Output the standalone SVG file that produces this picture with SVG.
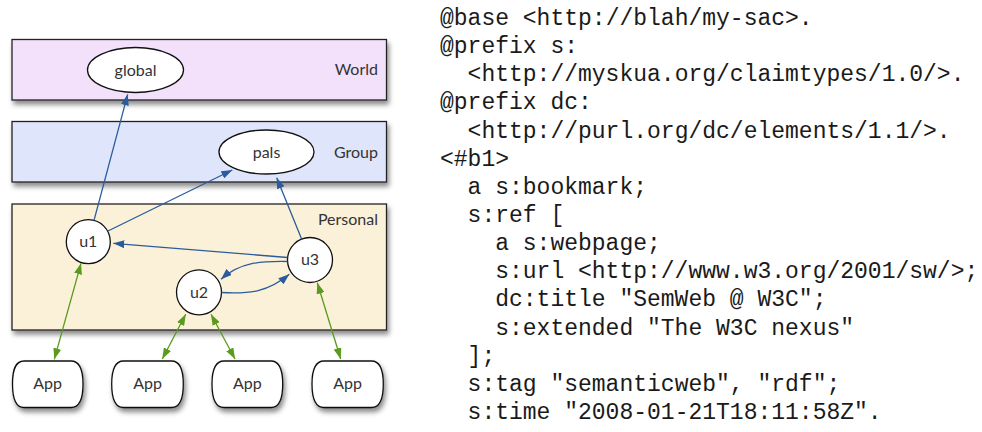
<svg xmlns="http://www.w3.org/2000/svg" width="982" height="432" viewBox="0 0 982 432">
  <defs>
    <filter id="shadow" x="-10%" y="-20%" width="125%" height="160%">
      <feDropShadow dx="2" dy="4" stdDeviation="2.5" flood-color="#000" flood-opacity="0.45"/>
    </filter>
    <marker id="headBlue" viewBox="0 0 11 8" refX="11" refY="4" markerWidth="11" markerHeight="8" markerUnits="userSpaceOnUse" orient="auto">
      <path d="M0,0 L11,4 L0,8 Z" fill="#2a5c9c"/>
    </marker>
    <marker id="headGreen" viewBox="0 0 11 8" refX="11" refY="4" markerWidth="11" markerHeight="8" markerUnits="userSpaceOnUse" orient="auto-start-reverse">
      <path d="M0,0 L11,4 L0,8 Z" fill="#5a9a1c"/>
    </marker>
  </defs>
  <style>
    .band { stroke: #222; stroke-width: 1.3; filter: url(#shadow); }
    .node { fill: #fff; stroke: #111; stroke-width: 1.3; }
    .app { fill: #fff; stroke: #111; stroke-width: 1.3; filter: url(#shadow); }
    .lbl { font-family: Lato, "Open Sans", sans-serif; font-size: 16px; fill: #333; }
    .mid { text-anchor: middle; }
    .end { text-anchor: end; }
    .blue { fill: none; stroke: #2a5c9c; stroke-width: 1.3; marker-end: url(#headBlue); }
    .green { fill: none; stroke: #5a9a1c; stroke-width: 1.3; marker-start: url(#headGreen); marker-end: url(#headGreen); }
    .code { font-family: "Liberation Mono", "DejaVu Sans Mono", monospace; font-size: 23px; fill: #1a1a1a; }
  </style>

  <!-- layers -->
  <g id="world">
    <rect class="band" x="12" y="39.5" width="374.5" height="60.5" fill="#f3e1fb"/>
    <text class="lbl end" x="378" y="75">World</text>
  </g>
  <g id="group">
    <rect class="band" x="12" y="121.5" width="374.5" height="60.5" fill="#dfe5fb"/>
    <text class="lbl end" x="378" y="157.5">Group</text>
  </g>
  <g id="personal">
    <rect class="band" x="12" y="204" width="374.5" height="126" fill="#fbf1d9"/>
    <text class="lbl end" x="378" y="225">Personal</text>
  </g>

  <!-- claim nodes -->
  <g id="global">
    <ellipse class="node" cx="135.5" cy="70" rx="48" ry="22.5"/>
    <text class="lbl mid" x="135.5" y="75.5">global</text>
  </g>
  <g id="pals">
    <ellipse class="node" cx="266.5" cy="152" rx="47.5" ry="22"/>
    <text class="lbl mid" x="266.5" y="157.5">pals</text>
  </g>
  <g id="u1">
    <circle class="node" cx="88.3" cy="241.7" r="22"/>
    <text class="lbl mid" x="88.3" y="247">u1</text>
  </g>
  <g id="u2">
    <circle class="node" cx="199" cy="292.3" r="22.5"/>
    <text class="lbl mid" x="199" y="297.6">u2</text>
  </g>
  <g id="u3">
    <circle class="node" cx="310" cy="260" r="22.5"/>
    <text class="lbl mid" x="310" y="265.3">u3</text>
  </g>

  <!-- applications -->
  <g id="app1">
    <path class="app" d="M24 361 H71 C80 361 83 370 83 384 C83 398 80 407.5 71 407.5 H24 C15 407.5 12.5 398 12.5 384 C12.5 370 15 361 24 361 Z"/>
    <text class="lbl mid" x="47.7" y="389">App</text>
  </g>
  <g id="app2">
    <path class="app" d="M123.5 361 H171.5 C180.5 361 183.3 370 183.3 384 C183.3 398 180.5 407.5 171.5 407.5 H123.5 C114.5 407.5 111.7 398 111.7 384 C111.7 370 114.5 361 123.5 361 Z"/>
    <text class="lbl mid" x="147.5" y="389">App</text>
  </g>
  <g id="app3">
    <path class="app" d="M224 361 H271 C280 361 282.7 370 282.7 384 C282.7 398 280 407.5 271 407.5 H224 C215 407.5 212 398 212 384 C212 370 215 361 224 361 Z"/>
    <text class="lbl mid" x="247.3" y="389">App</text>
  </g>
  <g id="app4">
    <path class="app" d="M324 361 H371.5 C380.5 361 383.3 370 383.3 384 C383.3 398 380.5 407.5 371.5 407.5 H324 C315 407.5 312 398 312 384 C312 370 315 361 324 361 Z"/>
    <text class="lbl mid" x="347.7" y="389">App</text>
  </g>

  <!-- connectors -->
  <g id="connectors">
    <path class="blue" d="M94 220.4 L127.7 94.3"/>
    <path class="blue" d="M108 231 L232.3 170"/>
    <path class="blue" d="M301.6 239.1 L276.7 177.7"/>
    <path class="blue" d="M287.5 257.5 L113.3 243.3"/>
    <path class="blue" d="M287.5 261.5 C262 261 240 262 221 279.3"/>
    <path class="blue" d="M221.5 292.5 C250 294 268 292 289.3 274.3"/>
    <path class="green" d="M81 263.3 L54.3 359.3"/>
    <path class="green" d="M185.7 314.3 L162.3 359"/>
    <path class="green" d="M211 314.3 L235 359"/>
    <path class="green" d="M317.3 282.7 L340.7 359"/>
  </g>

  <!-- Turtle listing: indent steps of two 13.8px columns -->
  <g id="turtle" class="code">
    <text x="440" y="25">@base &lt;http://blah/my-sac&gt;.</text>
    <text x="440" y="53.1">@prefix s:</text>
    <text x="467.6" y="81.3">&lt;http://myskua.org/claimtypes/1.0/&gt;.</text>
    <text x="440" y="109.4">@prefix dc:</text>
    <text x="467.6" y="137.6">&lt;http://purl.org/dc/elements/1.1/&gt;.</text>
    <text x="440" y="165.7">&lt;#b1&gt;</text>
    <text x="467.6" y="193.8">a s:bookmark;</text>
    <text x="467.6" y="222">s:ref [</text>
    <text x="495.2" y="250.1">a s:webpage;</text>
    <text x="495.2" y="278.3">s:url &lt;http://www.w3.org/2001/sw/&gt;;</text>
    <text x="495.2" y="306.4">dc:title "SemWeb @ W3C";</text>
    <text x="495.2" y="334.5">s:extended "The W3C nexus"</text>
    <text x="467.6" y="362.7">];</text>
    <text x="467.6" y="390.8">s:tag "semanticweb", "rdf";</text>
    <text x="467.6" y="419">s:time "2008-01-21T18:11:58Z".</text>
  </g>
</svg>
